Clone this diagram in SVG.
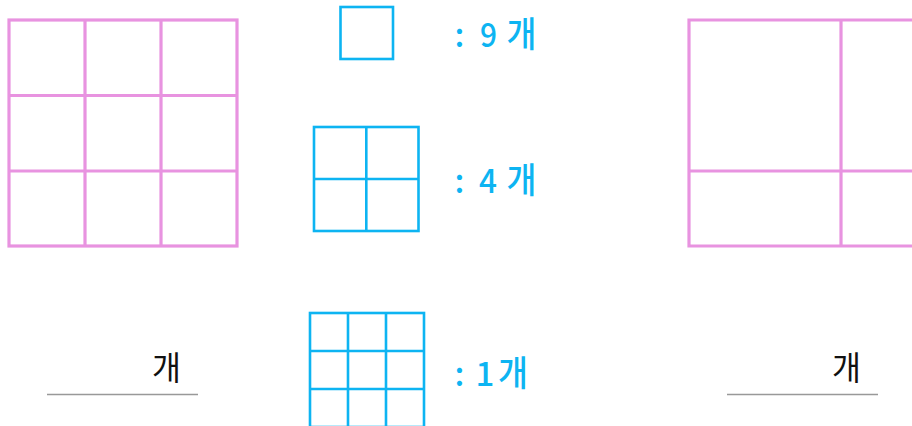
<svg xmlns="http://www.w3.org/2000/svg" width="912" height="426" viewBox="0 0 912 426">
<style>
.pink{fill:none;stroke:#E893E0;stroke-width:3.2}
.blue{fill:none;stroke:#0DB4F2;stroke-width:2.6}
.bt{fill:#0DB4F2;font-family:"Noto Sans CJK KR","Noto Sans",sans-serif;font-weight:500;text-anchor:middle}
.kt{fill:#111;font-family:"Noto Sans CJK KR","Noto Sans",sans-serif;font-weight:400;font-size:33px;text-anchor:middle}
.ul{stroke:#999;stroke-width:1.5}
</style>
<rect width="912" height="426" fill="#fff"/>
<g id="grid-left">
<rect class="pink" x="9" y="20" width="228" height="226"/>
<path class="pink" d="M85 20V246M161 20V246M9 95.5H237M9 171H237"/>
</g>
<g id="grid-right">
<path class="pink" d="M914 20H689V246H914M841 20V246M689 171H914"/>
</g>
<g id="sq1">
<rect class="blue" x="340.5" y="7" width="52.5" height="52"/>
</g>
<g id="sq2">
<rect class="blue" x="314" y="127" width="104.5" height="104"/>
<path class="blue" d="M366.3 127V231M314 179H418.5"/>
</g>
<g id="sq3">
<rect class="blue" x="310" y="313" width="114" height="114"/>
<path class="blue" d="M348 313V427M386 313V427M310 351H424M310 389H424"/>
</g>
<g id="label1">
<text class="bt" font-size="33" x="459.5" y="47">:</text>
<text class="bt" font-size="33" x="488.5" y="47" textLength="17" lengthAdjust="spacingAndGlyphs">9</text>
<text class="bt" font-size="35" x="521.5" y="47" textLength="30" lengthAdjust="spacingAndGlyphs">개</text>
</g>
<g id="label2">
<text class="bt" font-size="33" x="459.5" y="193">:</text>
<text class="bt" font-size="33" x="488" y="193" textLength="18" lengthAdjust="spacingAndGlyphs">4</text>
<text class="bt" font-size="35" x="521.5" y="193" textLength="30" lengthAdjust="spacingAndGlyphs">개</text>
</g>
<g id="label3">
<text class="bt" font-size="33" x="459.5" y="386">:</text>
<text class="bt" font-size="33" x="485" y="386">1</text>
<text class="bt" font-size="35" x="513" y="386" textLength="30" lengthAdjust="spacingAndGlyphs">개</text>
</g>
<g id="answer-left">
<line class="ul" x1="47" y1="394.5" x2="198" y2="394.5"/>
<text class="kt" x="166.5" y="380" textLength="29" lengthAdjust="spacingAndGlyphs">개</text>
</g>
<g id="answer-right">
<line class="ul" x1="727" y1="394.5" x2="878" y2="394.5"/>
<text class="kt" x="846.5" y="380" textLength="29" lengthAdjust="spacingAndGlyphs">개</text>
</g>
</svg>
